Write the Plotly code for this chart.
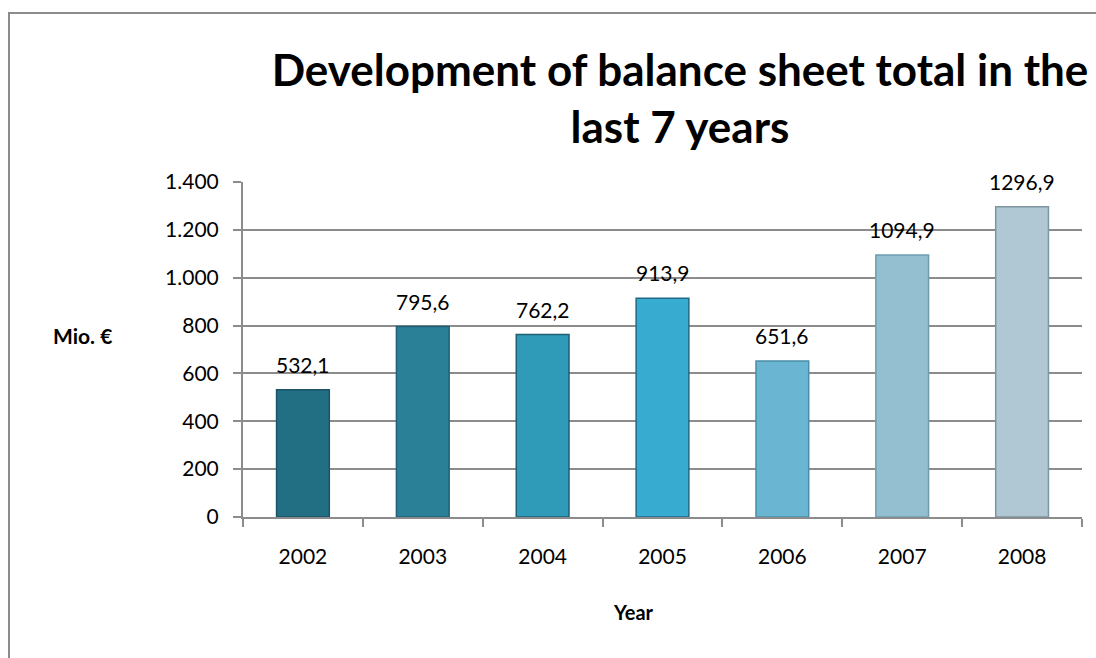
import plotly.graph_objects as go

years = ["2002", "2003", "2004", "2005", "2006", "2007", "2008"]
totals = [532.1, 795.6, 762.2, 913.9, 651.6, 1094.9, 1296.9]
bar_colors = ["#226f84", "#2a8096", "#309bb8", "#37acd0", "#6ab5d1", "#93bfd0", "#b0c8d3"]
edge_colors = ["#1a5466", "#1f6175", "#1d5f73", "#1f6a85", "#4a8fa8", "#6f9db0", "#7d95a0"]
y_ticks = [0, 200, 400, 600, 800, 1000, 1200, 1400]

L, R, T, B = 243, 14, 182, 141
W, H = 1096, 658
pw, ph = W - L - R, H - T - B

fig = go.Figure(go.Bar(
    x=years, y=totals,
    marker=dict(color=bar_colors, line=dict(color=edge_colors, width=1.5)),
    width=0.44,
    cliponaxis=False,
))

font = "Lato, 'Liberation Sans', sans-serif"
annotations = [
    dict(x=i, y=v, xref="x", yref="y", text=f"{v:.1f}".replace(".", ","),
         showarrow=False, yanchor="bottom", xanchor="center", yshift=11,
         font=dict(size=21, color="#000000"))
    for i, v in enumerate(totals)
]
annotations += [
    dict(text="<b>Mio. €</b>", xref="paper", yref="paper",
         x=(82 - L) / pw, y=(H - B - 335) / ph, showarrow=False,
         font=dict(size=21), xanchor="center", yanchor="middle"),
    dict(text="<b>Year</b>", xref="paper", yref="paper",
         x=(633 - L) / pw, y=(H - B - 612) / ph, showarrow=False,
         font=dict(size=20), xanchor="center", yanchor="middle"),
]

fig.update_layout(
    width=W, height=H,
    margin=dict(l=L, r=R, t=T, b=B),
    paper_bgcolor="white", plot_bgcolor="white",
    separators=",.",
    font=dict(family=font, size=21, color="#000000"),
    showlegend=False,
    title=dict(text="<b>Development of balance sheet total in the<br>last 7 years</b>",
               x=680 / W, xanchor="center", y=1 - 86 / H, yanchor="middle",
               font=dict(size=44, family=font, color="#000000")),
    xaxis=dict(type="category", range=[-0.5, len(years) - 0.5],
               showline=True, linecolor="#8c8c8c", linewidth=2,
               ticks="outside", ticklen=8, tickcolor="#8c8c8c", tickwidth=2,
               tickson="boundaries", showgrid=False, ticklabelstandoff=20,
               tickangle=0, tickfont=dict(size=21)),
    yaxis=dict(range=[0, 1400], tickvals=y_ticks, tickformat=",d",
               showline=True, linecolor="#8c8c8c", linewidth=2,
               ticks="outside", ticklen=8, tickcolor="#8c8c8c", tickwidth=2,
               showgrid=True, gridcolor="#8c8c8c", gridwidth=2,
               zeroline=False, ticklabelstandoff=10, tickfont=dict(size=21)),
    annotations=annotations,
    shapes=[dict(type="rect", xref="paper", yref="paper",
                 x0=(9 - L) / pw, x1=(1110 - L) / pw,
                 y0=(H - B - 670) / ph, y1=(H - B - 13) / ph,
                 line=dict(color="#8c8c8c", width=2), layer="below")],
)

fig.write_html("out.html")
